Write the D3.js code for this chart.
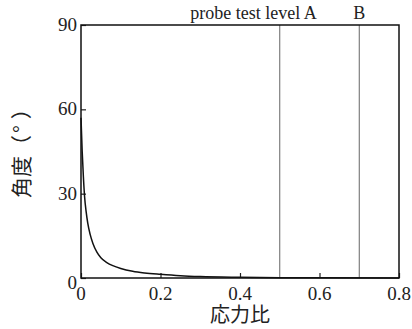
<!DOCTYPE html>
<html>
<head>
<meta charset="utf-8">
<script src="https://cdn.jsdelivr.net/npm/d3@7"></script>
<style>
  body { margin: 0; background: #fff; }
  svg { display: block; }
</style>
</head>
<body>
<svg width="412" height="329"></svg>
<script>
// data
var stressRatio = [0, 0.003, 0.006, 0.009, 0.013, 0.017, 0.023, 0.03, 0.04, 0.05, 0.065, 0.08, 0.1, 0.13, 0.16, 0.2, 0.25, 0.3, 0.4, 0.5, 0.6, 0.8];
var angle = [57, 45, 36, 29, 23.5, 19.5, 15.5, 12.3, 9.2, 7.2, 5.5, 4.4, 3.4, 2.4, 1.8, 1.3, 0.8, 0.5, 0.25, 0.12, 0.06, 0.02];
var probeLevels = [0.5, 0.7];
var probeNames = ["probe test level A", "B"];
var xTicks = [0, 0.2, 0.4, 0.6, 0.8];
var yTicks = [0, 30, 60, 90];

var svg = d3.select("svg");
// plot box (note: "top" is taken by window.top, so use other names)
var plotLeft = 81, plotRight = 399, plotTop = 25, plotBottom = 278;

var x = d3.scaleLinear().domain([0, 0.8]).range([plotLeft, plotRight]);
var y = d3.scaleLinear().domain([0, 90]).range([plotBottom, plotTop]);

var serif = "'Liberation Serif', 'Times New Roman', serif";
var cjk = "'Noto Sans CJK JP', 'Noto Sans CJK SC', sans-serif";

// probe level lines
svg.append("g")
    .selectAll("line")
    .data(probeLevels)
    .enter()
    .append("line")
    .attr("x1", function (d) { return x(d); })
    .attr("x2", function (d) { return x(d); })
    .attr("y1", y(90))
    .attr("y2", y(0))
    .style("stroke", "#666")
    .style("stroke-width", 1);

// labels above the plot
svg.append("text")
    .attr("x", x(probeLevels[0]) + 37)
    .attr("y", 19)
    .attr("text-anchor", "end")
    .style("font-family", serif)
    .style("font-size", "18px")
    .style("fill", "#222")
    .text(probeNames[0]);
svg.append("text")
    .attr("x", x(probeLevels[1]))
    .attr("y", 19)
    .attr("text-anchor", "middle")
    .style("font-family", serif)
    .style("font-size", "18px")
    .style("fill", "#222")
    .text(probeNames[1]);

// axes with inward ticks
svg.append("g")
    .attr("transform", "translate(0," + plotBottom + ")")
    .call(d3.axisTop(x).tickValues(xTicks).tickSize(5).tickFormat(""));
svg.append("g")
    .attr("transform", "translate(" + plotLeft + ",0)")
    .call(d3.axisRight(y).tickValues(yTicks).tickSize(5).tickFormat(""));
svg.selectAll(".domain").remove();
svg.selectAll(".tick line").style("stroke", "#222").style("stroke-width", 1.2);

// frame
svg.append("rect")
    .attr("x", plotLeft)
    .attr("y", plotTop)
    .attr("width", plotRight - plotLeft)
    .attr("height", plotBottom - plotTop)
    .style("fill", "none")
    .style("stroke", "#111")
    .style("stroke-width", 1.5);

// tick labels
svg.append("g")
    .selectAll("text")
    .data(xTicks)
    .enter()
    .append("text")
    .attr("x", function (d) { return x(d); })
    .attr("y", 300)
    .attr("text-anchor", "middle")
    .style("font-family", serif)
    .style("font-size", "19px")
    .style("fill", "#222")
    .text(function (d) { return d; });

svg.append("g")
    .selectAll("text")
    .data(yTicks)
    .enter()
    .append("text")
    .attr("x", 77)
    .attr("y", function (d) { return y(d) + (d == 0 ? 11 : 6); })
    .attr("text-anchor", "end")
    .style("font-family", serif)
    .style("font-size", "19px")
    .style("fill", "#222")
    .text(function (d) { return d; });

// curve
var line = d3.line()
    .x(function (d) { return x(d[0]); })
    .y(function (d) { return y(d[1]); })
    .curve(d3.curveMonotoneX);

svg.append("path")
    .datum(d3.zip(stressRatio, angle))
    .attr("d", line)
    .style("fill", "none")
    .style("stroke", "#111")
    .style("stroke-width", 1.5);

// axis titles
svg.append("text")
    .attr("x", 240)
    .attr("y", 322)
    .attr("text-anchor", "middle")
    .style("font-family", cjk)
    .style("font-size", "20px")
    .style("fill", "#222")
    .text("応力比");

// y title, rotated, with the degree sign spaced out like the reference
var yTitle = svg.append("text")
    .attr("transform", "translate(29,198) rotate(-90)")
    .attr("text-anchor", "start")
    .style("font-family", cjk)
    .style("font-size", "21px")
    .style("fill", "#222");
yTitle.append("tspan").text("角度（");
yTitle.append("tspan").attr("dx", 2).text("°");
yTitle.append("tspan").attr("dx", 6).text("）");
</script>
</body>
</html>
